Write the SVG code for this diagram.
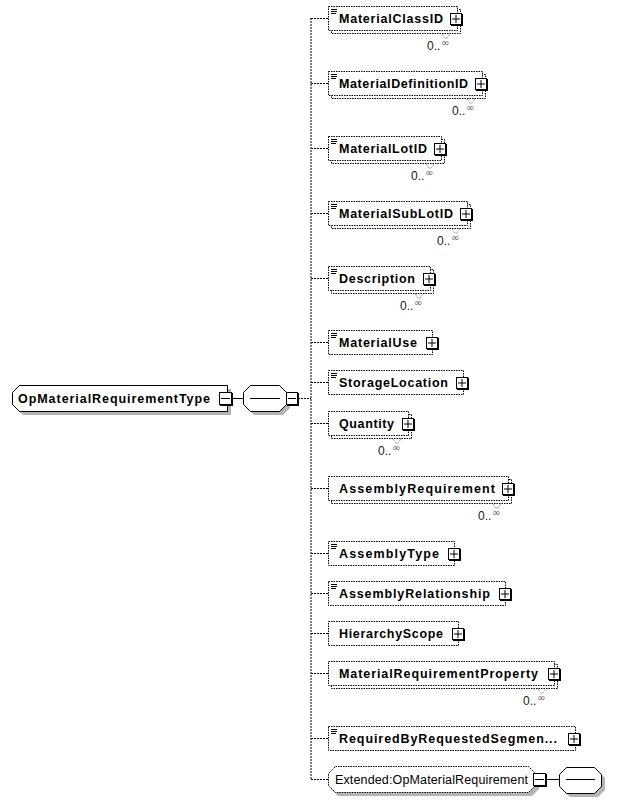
<svg xmlns="http://www.w3.org/2000/svg" width="624" height="802" viewBox="0 0 624 802">
<defs>
<style>
.bg{fill:#ffffff}
.el{fill:#ffffff;stroke:#000;stroke-width:1;stroke-dasharray:1.5,1}
.lbl{font-family:"Liberation Sans",Arial,sans-serif;font-size:12.5px;font-weight:bold;fill:#000}
.nlbl{font-family:"Liberation Sans",Arial,sans-serif;font-size:12.5px;fill:#000}
.occ{font-family:"Liberation Sans",Arial,sans-serif;font-size:12px;fill:#222}
.inf{font-family:"DejaVu Sans",sans-serif;font-size:10px;fill:#555}
.box{fill:#fff;stroke:#000;stroke-width:1}
.bsh{fill:#000}
.sh{fill:#b4b4b4}
.solid{fill:#fff;stroke:#000;stroke-width:1}
.dash{fill:#fff;stroke:#000;stroke-width:1;stroke-dasharray:1.5,1}
.doc{stroke:#000;stroke-width:1}
.v{fill:none;stroke:#777;stroke-width:1;stroke-dasharray:1,1}
.con{fill:none;stroke:#000;stroke-width:1;stroke-dasharray:2,1}
.ln{stroke:#000;stroke-width:1}
</style>
</defs>
<rect class="bg" x="0" y="0" width="624" height="802"/>

<g id="connectors">
<line class="con" x1="311" y1="18" x2="311" y2="779"/>
<line class="con" x1="298" y1="398.5" x2="311" y2="398.5"/>
<line class="con" x1="311" y1="18.5" x2="328" y2="18.5"/>
<line class="con" x1="311" y1="83.5" x2="328" y2="83.5"/>
<line class="con" x1="311" y1="148.5" x2="328" y2="148.5"/>
<line class="con" x1="311" y1="213.5" x2="328" y2="213.5"/>
<line class="con" x1="311" y1="278.5" x2="328" y2="278.5"/>
<line class="con" x1="311" y1="342.5" x2="328" y2="342.5"/>
<line class="con" x1="311" y1="382.5" x2="328" y2="382.5"/>
<line class="con" x1="311" y1="423.5" x2="328" y2="423.5"/>
<line class="con" x1="311" y1="488.5" x2="328" y2="488.5"/>
<line class="con" x1="311" y1="553.5" x2="328" y2="553.5"/>
<line class="con" x1="311" y1="593.5" x2="328" y2="593.5"/>
<line class="con" x1="311" y1="633.5" x2="328" y2="633.5"/>
<line class="con" x1="311" y1="673.5" x2="328" y2="673.5"/>
<line class="con" x1="311" y1="738.5" x2="328" y2="738.5"/>
<line class="con" x1="311" y1="779.5" x2="328" y2="779.5"/>
<line class="ln" x1="232" y1="398.5" x2="243" y2="398.5"/>
<line class="ln" x1="546" y1="779.5" x2="559" y2="779.5"/>
</g>

<g id="root">
<polygon class="sh" points="23,389 231,389 231,415 23,415 16,408 16,396"/>
<polygon class="solid" points="19.5,385.5 227.5,385.5 227.5,411.5 19.5,411.5 12.5,404.5 12.5,392.5"/>
<text class="lbl" x="18" y="403" textLength="192" lengthAdjust="spacing">OpMaterialRequirementType</text>
<rect class="bsh" x="220" y="393" width="13" height="13"/>
<rect class="box" x="219.5" y="392.5" width="12" height="12"/>
<line class="ln" x1="221" y1="398.5" x2="230" y2="398.5"/>
</g>

<g id="sequence">
<polygon class="sh" points="254,389 283,389 290,396 290,408 283,415 254,415 247,408 247,396"/>
<polygon class="solid" points="250.5,385.5 279.5,385.5 286.5,392.5 286.5,404.5 279.5,411.5 250.5,411.5 243.5,404.5 243.5,392.5"/>
<line class="ln" x1="250" y1="398.5" x2="280" y2="398.5"/>
<rect class="bsh" x="287" y="393" width="12" height="13"/>
<rect class="box" x="286.5" y="392.5" width="11" height="12"/>
<line class="ln" x1="288" y1="398.5" x2="296" y2="398.5"/>
</g>

<g id="n1">
<rect class="el" x="331.5" y="9.5" width="129" height="24"/>
<rect class="el" x="328.5" y="6.5" width="129" height="24"/>
<line class="doc" x1="331" y1="9.5" x2="337" y2="9.5"/><line class="doc" x1="331" y1="11.5" x2="337" y2="11.5"/><line class="doc" x1="331" y1="13.5" x2="336" y2="13.5"/>
<text class="lbl" x="339" y="23" textLength="104" lengthAdjust="spacing">MaterialClassID</text>
<rect class="bsh" x="451" y="14" width="12" height="12"/>
<rect class="box" x="450.5" y="13.5" width="11" height="11"/>
<line class="ln" x1="452" y1="19" x2="460" y2="19"/><line class="ln" x1="456" y1="15" x2="456" y2="23"/>
<polyline class="v" points="442,34 446,39 450,34"/>
<text class="occ" x="427" y="50">0..</text><text class="inf" x="441" y="46">∞</text>
</g>

<g id="n2">
<rect class="el" x="331.5" y="74.5" width="154" height="24"/>
<rect class="el" x="328.5" y="71.5" width="154" height="24"/>
<line class="doc" x1="331" y1="74.5" x2="337" y2="74.5"/><line class="doc" x1="331" y1="76.5" x2="337" y2="76.5"/><line class="doc" x1="331" y1="78.5" x2="336" y2="78.5"/>
<text class="lbl" x="339" y="88" textLength="129" lengthAdjust="spacing">MaterialDefinitionID</text>
<rect class="bsh" x="476" y="79" width="12" height="12"/>
<rect class="box" x="475.5" y="78.5" width="11" height="11"/>
<line class="ln" x1="477" y1="84" x2="485" y2="84"/><line class="ln" x1="481" y1="80" x2="481" y2="88"/>
<polyline class="v" points="467,99 471,104 475,99"/>
<text class="occ" x="452" y="115">0..</text><text class="inf" x="466" y="111">∞</text>
</g>

<g id="n3">
<rect class="el" x="331.5" y="139.5" width="113" height="24"/>
<rect class="el" x="328.5" y="136.5" width="113" height="24"/>
<line class="doc" x1="331" y1="139.5" x2="337" y2="139.5"/><line class="doc" x1="331" y1="141.5" x2="337" y2="141.5"/><line class="doc" x1="331" y1="143.5" x2="336" y2="143.5"/>
<text class="lbl" x="339" y="153" textLength="88" lengthAdjust="spacing">MaterialLotID</text>
<rect class="bsh" x="435" y="144" width="12" height="12"/>
<rect class="box" x="434.5" y="143.5" width="11" height="11"/>
<line class="ln" x1="436" y1="149" x2="444" y2="149"/><line class="ln" x1="440" y1="145" x2="440" y2="153"/>
<polyline class="v" points="426,164 430,169 434,164"/>
<text class="occ" x="411" y="180">0..</text><text class="inf" x="425" y="176">∞</text>
</g>

<g id="n4">
<rect class="el" x="331.5" y="204.5" width="139" height="24"/>
<rect class="el" x="328.5" y="201.5" width="139" height="24"/>
<line class="doc" x1="331" y1="204.5" x2="337" y2="204.5"/><line class="doc" x1="331" y1="206.5" x2="337" y2="206.5"/><line class="doc" x1="331" y1="208.5" x2="336" y2="208.5"/>
<text class="lbl" x="339" y="218" textLength="114" lengthAdjust="spacing">MaterialSubLotID</text>
<rect class="bsh" x="461" y="209" width="12" height="12"/>
<rect class="box" x="460.5" y="208.5" width="11" height="11"/>
<line class="ln" x1="462" y1="214" x2="470" y2="214"/><line class="ln" x1="466" y1="210" x2="466" y2="218"/>
<polyline class="v" points="452,229 456,234 460,229"/>
<text class="occ" x="437" y="245">0..</text><text class="inf" x="451" y="241">∞</text>
</g>

<g id="n5">
<rect class="el" x="331.5" y="269.5" width="102" height="24"/>
<rect class="el" x="328.5" y="266.5" width="102" height="24"/>
<line class="doc" x1="331" y1="269.5" x2="337" y2="269.5"/><line class="doc" x1="331" y1="271.5" x2="337" y2="271.5"/><line class="doc" x1="331" y1="273.5" x2="336" y2="273.5"/>
<text class="lbl" x="339" y="283" textLength="76" lengthAdjust="spacing">Description</text>
<rect class="bsh" x="424" y="274" width="12" height="12"/>
<rect class="box" x="423.5" y="273.5" width="11" height="11"/>
<line class="ln" x1="425" y1="279" x2="433" y2="279"/><line class="ln" x1="429" y1="275" x2="429" y2="283"/>
<polyline class="v" points="415,294 419,299 423,294"/>
<text class="occ" x="400" y="310">0..</text><text class="inf" x="414" y="306">∞</text>
</g>

<g id="n6">
<rect class="el" x="328.5" y="330.5" width="104" height="24"/>
<line class="doc" x1="331" y1="333.5" x2="337" y2="333.5"/><line class="doc" x1="331" y1="335.5" x2="337" y2="335.5"/><line class="doc" x1="331" y1="337.5" x2="336" y2="337.5"/>
<text class="lbl" x="339" y="347" textLength="78" lengthAdjust="spacing">MaterialUse</text>
<rect class="bsh" x="427" y="338" width="12" height="12"/>
<rect class="box" x="426.5" y="337.5" width="11" height="11"/>
<line class="ln" x1="428" y1="343" x2="436" y2="343"/><line class="ln" x1="432" y1="339" x2="432" y2="347"/>
</g>

<g id="n7">
<rect class="el" x="328.5" y="370.5" width="135" height="24"/>
<line class="doc" x1="331" y1="373.5" x2="337" y2="373.5"/><line class="doc" x1="331" y1="375.5" x2="337" y2="375.5"/><line class="doc" x1="331" y1="377.5" x2="336" y2="377.5"/>
<text class="lbl" x="339" y="387" textLength="109" lengthAdjust="spacing">StorageLocation</text>
<rect class="bsh" x="457" y="378" width="12" height="12"/>
<rect class="box" x="456.5" y="377.5" width="11" height="11"/>
<line class="ln" x1="458" y1="383" x2="466" y2="383"/><line class="ln" x1="462" y1="379" x2="462" y2="387"/>
</g>

<g id="n8">
<rect class="el" x="331.5" y="414.5" width="80" height="24"/>
<rect class="el" x="328.5" y="411.5" width="80" height="24"/>
<text class="lbl" x="339" y="428" textLength="55" lengthAdjust="spacing">Quantity</text>
<rect class="bsh" x="403" y="419" width="12" height="12"/>
<rect class="box" x="402.5" y="418.5" width="11" height="11"/>
<line class="ln" x1="404" y1="424" x2="412" y2="424"/><line class="ln" x1="408" y1="420" x2="408" y2="428"/>
<polyline class="v" points="393,439 397,444 401,439"/>
<text class="occ" x="378" y="455">0..</text><text class="inf" x="392" y="451">∞</text>
</g>

<g id="n9">
<rect class="el" x="331.5" y="479.5" width="180" height="24"/>
<rect class="el" x="328.5" y="476.5" width="180" height="24"/>
<text class="lbl" x="339" y="493" textLength="156" lengthAdjust="spacing">AssemblyRequirement</text>
<rect class="bsh" x="503" y="484" width="12" height="12"/>
<rect class="box" x="502.5" y="483.5" width="11" height="11"/>
<line class="ln" x1="504" y1="489" x2="512" y2="489"/><line class="ln" x1="508" y1="485" x2="508" y2="493"/>
<polyline class="v" points="493,504 497,509 501,504"/>
<text class="occ" x="478" y="520">0..</text><text class="inf" x="492" y="516">∞</text>
</g>

<g id="n10">
<rect class="el" x="328.5" y="541.5" width="126" height="24"/>
<line class="doc" x1="331" y1="544.5" x2="337" y2="544.5"/><line class="doc" x1="331" y1="546.5" x2="337" y2="546.5"/><line class="doc" x1="331" y1="548.5" x2="336" y2="548.5"/>
<text class="lbl" x="339" y="558" textLength="100" lengthAdjust="spacing">AssemblyType</text>
<rect class="bsh" x="449" y="549" width="12" height="12"/>
<rect class="box" x="448.5" y="548.5" width="11" height="11"/>
<line class="ln" x1="450" y1="554" x2="458" y2="554"/><line class="ln" x1="454" y1="550" x2="454" y2="558"/>
</g>

<g id="n11">
<rect class="el" x="328.5" y="581.5" width="177" height="24"/>
<line class="doc" x1="331" y1="584.5" x2="337" y2="584.5"/><line class="doc" x1="331" y1="586.5" x2="337" y2="586.5"/><line class="doc" x1="331" y1="588.5" x2="336" y2="588.5"/>
<text class="lbl" x="339" y="598" textLength="151" lengthAdjust="spacing">AssemblyRelationship</text>
<rect class="bsh" x="500" y="589" width="12" height="12"/>
<rect class="box" x="499.5" y="588.5" width="11" height="11"/>
<line class="ln" x1="501" y1="594" x2="509" y2="594"/><line class="ln" x1="505" y1="590" x2="505" y2="598"/>
</g>

<g id="n12">
<rect class="el" x="328.5" y="621.5" width="130" height="24"/>
<text class="lbl" x="339" y="638" textLength="104" lengthAdjust="spacing">HierarchyScope</text>
<rect class="bsh" x="453" y="629" width="12" height="12"/>
<rect class="box" x="452.5" y="628.5" width="11" height="11"/>
<line class="ln" x1="454" y1="634" x2="462" y2="634"/><line class="ln" x1="458" y1="630" x2="458" y2="638"/>
</g>

<g id="n13">
<rect class="el" x="331.5" y="664.5" width="226" height="24"/>
<rect class="el" x="328.5" y="661.5" width="226" height="24"/>
<text class="lbl" x="339" y="678" textLength="199" lengthAdjust="spacing">MaterialRequirementProperty</text>
<rect class="bsh" x="549" y="669" width="12" height="12"/>
<rect class="box" x="548.5" y="668.5" width="11" height="11"/>
<line class="ln" x1="550" y1="674" x2="558" y2="674"/><line class="ln" x1="554" y1="670" x2="554" y2="678"/>
<polyline class="v" points="538,689 542,694 546,689"/>
<text class="occ" x="523" y="705">0..</text><text class="inf" x="537" y="701">∞</text>
</g>

<g id="n14">
<rect class="el" x="328.5" y="726.5" width="247" height="24"/>
<line class="doc" x1="331" y1="729.5" x2="337" y2="729.5"/><line class="doc" x1="331" y1="731.5" x2="337" y2="731.5"/><line class="doc" x1="331" y1="733.5" x2="336" y2="733.5"/>
<text class="lbl" x="339" y="743" textLength="218" lengthAdjust="spacing">RequiredByRequestedSegmen...</text>
<rect class="bsh" x="569" y="734" width="12" height="12"/>
<rect class="box" x="568.5" y="733.5" width="11" height="11"/>
<line class="ln" x1="570" y1="739" x2="578" y2="739"/><line class="ln" x1="574" y1="735" x2="574" y2="743"/>
</g>

<g id="n15">
<polygon class="sh" points="338,770 532,770 539,777 539,789 532,796 338,796 331,789 331,777"/>
<polygon class="dash" points="335.5,766.5 528.5,766.5 535.5,773.5 535.5,785.5 528.5,792.5 335.5,792.5 328.5,785.5 328.5,773.5"/>
<text class="nlbl" x="335" y="784" textLength="193" lengthAdjust="spacing">Extended:OpMaterialRequirement</text>
<rect class="bsh" x="534" y="774" width="13" height="13"/>
<rect class="box" x="533.5" y="773.5" width="12" height="12"/>
<line class="ln" x1="535" y1="779.5" x2="544" y2="779.5"/>
</g>

<g id="seq2">
<polygon class="sh" points="570,771 598,771 605,778 605,790 598,797 570,797 563,790 563,778"/>
<polygon class="solid" points="566.5,767.5 594.5,767.5 601.5,774.5 601.5,786.5 594.5,793.5 566.5,793.5 559.5,786.5 559.5,774.5"/>
<line class="ln" x1="566" y1="779.5" x2="595" y2="779.5"/>
</g>
</svg>
